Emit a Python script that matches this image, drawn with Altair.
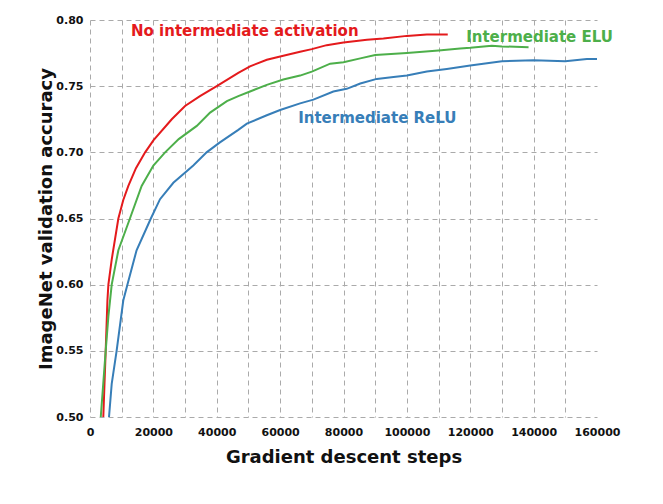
import altair as alt
import pandas as pd

names = ["No intermediate activation", "Intermediate ELU", "Intermediate ReLU"]
colors = ["#e41a1c", "#4daf4a", "#377eb8"]

red_x = [4200, 4950, 5500, 5800, 6850, 8950, 10500, 12100, 14500, 17400, 20000, 25800, 30000,
         34700, 40000, 46800, 50500, 55800, 61000, 66300, 70000, 74700, 80000, 87400, 92600,
         100000, 106300, 112900]
red_y = [0.500, 0.550, 0.588, 0.600, 0.619, 0.650, 0.664, 0.6746, 0.688, 0.700, 0.709, 0.725, 0.735,
         0.7425, 0.750, 0.760, 0.765, 0.770, 0.773, 0.776, 0.778, 0.781, 0.783, 0.785, 0.786,
         0.788, 0.789, 0.789]

green_x = [3400, 4950, 5800, 6850, 8950, 12600, 16300, 20000, 23700, 28000, 33700, 37900, 43200,
           46800, 50500, 55800, 61000, 66300, 70000, 75800, 80000, 85300, 90000, 100000, 110000,
           116800, 120000, 126800, 130000, 138400]
green_y = [0.500, 0.550, 0.576, 0.600, 0.626, 0.650, 0.6746, 0.690, 0.700, 0.710, 0.720, 0.730, 0.7387,
           0.7425, 0.746, 0.751, 0.755, 0.758, 0.761, 0.767, 0.768, 0.771, 0.7735, 0.775, 0.777,
           0.7785, 0.779, 0.7805, 0.780, 0.7795]

blue_x = [6000, 6850, 8400, 10500, 11800, 14700, 19200, 22100, 26300, 32600, 36800, 41000,
          46800, 49500, 55800, 60000, 66300, 70500, 76800, 81000, 85300, 90500, 95800, 100000,
          106300, 112600, 120000, 130000, 140000, 150000, 156800, 160000]
blue_y = [0.500, 0.525, 0.550, 0.588, 0.600, 0.626, 0.650, 0.6646, 0.677, 0.690, 0.700, 0.7075,
          0.717, 0.7217, 0.728, 0.732, 0.737, 0.7398, 0.746, 0.748, 0.752, 0.7555, 0.757, 0.758,
          0.761, 0.763, 0.7656, 0.7688, 0.7696, 0.7688, 0.7706, 0.7706]

label_x = [12950, 118700, 65700]
label_y = [0.7878, 0.783, 0.7225]

x_grid_ticks = list(range(0, 150001, 10000))
x_label_ticks = list(range(0, 160001, 20000))
y_ticks = [0.50, 0.55, 0.60, 0.65, 0.70, 0.75, 0.80]

rows = []
for name, xs, ys in zip(names, [red_x, green_x, blue_x], [red_y, green_y, blue_y]):
    for xv, yv in zip(xs, ys):
        rows.append({"series": name, "step": xv, "acc": yv})
df = pd.DataFrame(rows)
lab = pd.DataFrame({"series": names, "step": label_x, "acc": label_y})

x_scale = alt.Scale(domain=[0, 160000], nice=False, zero=False)
y_scale = alt.Scale(domain=[0.5, 0.8], nice=False, zero=False)
color = alt.Color("series:N", scale=alt.Scale(domain=names, range=colors), legend=None)

x_axis_grid = alt.Axis(values=x_grid_ticks, labels=False, title=None, grid=True,
                       orient="bottom")
x_axis_labels = alt.Axis(values=x_label_ticks, format="d", grid=False, labelOverlap=False,
                         labelFlush=False, title="Gradient descent steps",
                         labelPadding=9, titlePadding=11, orient="bottom")
y_axis = alt.Axis(values=y_ticks, format=".2f", title="ImageNet validation accuracy",
                  labelPadding=7, titlePadding=0, labelOverlap=False, labelFlush=False)

lines = alt.Chart(df).mark_line(strokeWidth=2).encode(
    x=alt.X("step:Q", scale=x_scale, axis=x_axis_grid),
    y=alt.Y("acc:Q", scale=y_scale, axis=y_axis),
    color=color,
)

texts = alt.Chart(lab).mark_text(
    align="left", baseline="alphabetic", font="DejaVu Sans", fontWeight="bold", fontSize=15
).encode(
    x=alt.X("step:Q", scale=x_scale, axis=x_axis_labels),
    y=alt.Y("acc:Q", scale=y_scale),
    text="series:N",
    color=color,
)

chart = alt.layer(lines, texts).resolve_axis(x="independent").properties(
    width=507, height=397,
    autosize=alt.AutoSizeParams(type="none"),
    padding={"left": 90, "top": 20, "right": 66, "bottom": 87},
    background="white",
).configure_view(stroke=None).configure_axis(
    labelFont="DejaVu Sans", labelFontWeight="bold", labelFontSize=11, labelColor="#111111",
    titleFont="DejaVu Sans", titleFontWeight="bold", titleFontSize=18, titleColor="#111111",
    gridDash=[5, 4], gridColor="#aaaaaa", gridWidth=1,
    ticks=False, domain=False,
)

chart.save("out.html", embed_options={"renderer": "svg", "actions": False})
